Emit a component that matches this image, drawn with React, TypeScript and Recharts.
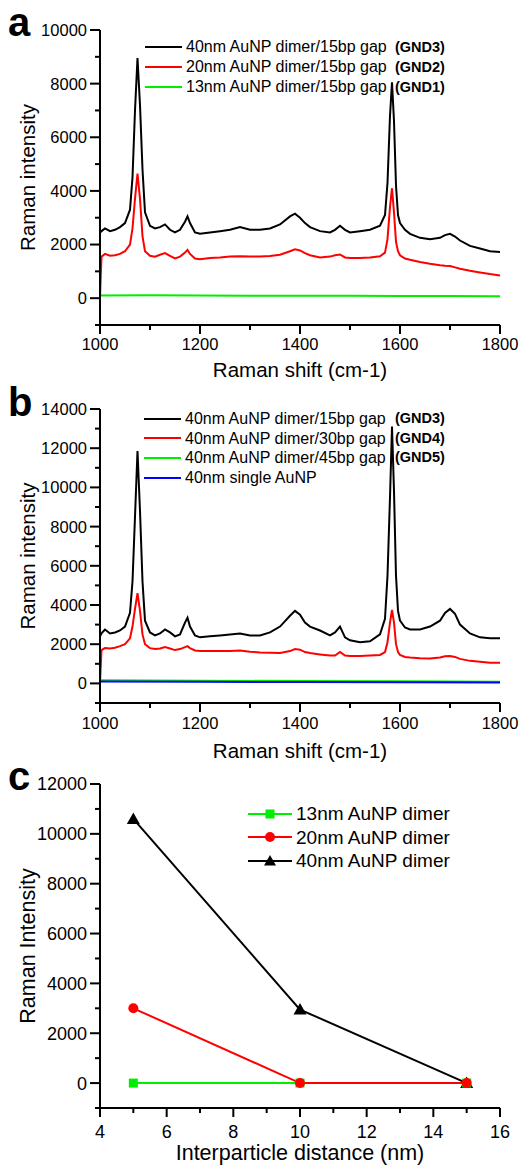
import React from 'react';
import { LineChart, Line, XAxis, YAxis } from 'recharts';

const FONT = '"Liberation Sans", Arial, Helvetica, sans-serif';

// common Raman shift grid (cm-1) used for the spectra in panels a and b
const shiftGrid = [
  1000, 1003, 1010, 1020, 1030, 1040, 1050, 1060, 1065, 1070,
  1075, 1080, 1085, 1090, 1100, 1110, 1120, 1130, 1140, 1150,
  1160, 1170, 1175, 1180, 1190, 1200, 1220, 1240, 1260, 1280,
  1300, 1320, 1340, 1360, 1380, 1390, 1400, 1410, 1420, 1440,
  1460, 1470, 1480, 1490, 1500, 1520, 1540, 1560, 1570, 1575,
  1580, 1584, 1588, 1592, 1596, 1600, 1610, 1620, 1640, 1660,
  1680, 1690, 1700, 1710, 1720, 1740, 1760, 1780, 1800,
];

// panel a
const gnd3A = [
  2450, 2500, 2600, 2500, 2550, 2650, 2800, 3300, 4500, 7000,
  8950, 7200, 4800, 3200, 2700, 2600, 2650, 2750, 2550, 2450,
  2550, 2850, 3050, 2800, 2450, 2400, 2450, 2500, 2550, 2650,
  2550, 2550, 2600, 2750, 3050, 3150, 3000, 2800, 2650, 2500,
  2450, 2550, 2700, 2550, 2450, 2500, 2550, 2700, 3100, 4300,
  6800, 8050, 6600, 4200, 3100, 2800, 2550, 2400, 2250, 2200,
  2250, 2350, 2400, 2300, 2150, 1950, 1850, 1750, 1720,
];
const gnd2A = [
  50, 1550, 1650, 1580, 1600, 1650, 1750, 2000, 2600, 3700,
  4650, 3700, 2300, 1750, 1580, 1550, 1620, 1680, 1580, 1480,
  1550, 1700, 1800, 1650, 1480, 1450, 1500, 1520, 1550, 1560,
  1550, 1550, 1570, 1620, 1750, 1820, 1780, 1680, 1600, 1520,
  1550, 1600, 1630, 1520, 1500, 1500, 1520, 1560, 1700, 2200,
  3400, 4100, 3200, 2100, 1750, 1600, 1480, 1430, 1350, 1280,
  1230, 1210, 1200, 1150, 1100, 1020, 960, 900, 850,
];
const gnd1Shift = [1000, 1100, 1200, 1300, 1400, 1500, 1600, 1700, 1800];
const gnd1A = [100, 105, 100, 95, 90, 90, 85, 80, 75];

// panel b
const gnd3B = [
  2400, 2550, 2750, 2550, 2600, 2700, 2900, 3600, 5200, 8500,
  11850, 8800, 5200, 3200, 2600, 2450, 2550, 2750, 2600, 2400,
  2500, 3100, 3350, 2900, 2450, 2350, 2400, 2450, 2500, 2550,
  2450, 2450, 2600, 2900, 3450, 3700, 3500, 3100, 2900, 2700,
  2450, 2600, 2900, 2350, 2200, 2100, 2150, 2500, 3300, 5500,
  9500, 13100, 9800, 5500, 3700, 3200, 2850, 2750, 2750, 2900,
  3200, 3600, 3800, 3550, 3000, 2550, 2350, 2300, 2300,
];
const gnd4B = [
  50, 1700, 1800, 1780, 1820, 1900, 2000, 2300, 2900, 3800,
  4600, 3700, 2500, 2000, 1800, 1750, 1780, 1850, 1780, 1700,
  1750, 1850, 1900, 1800, 1680, 1650, 1650, 1650, 1650, 1680,
  1620, 1580, 1560, 1550, 1650, 1750, 1720, 1600, 1550, 1480,
  1420, 1420, 1600, 1420, 1400, 1400, 1420, 1450, 1600, 2100,
  3100, 3750, 3100, 2000, 1600, 1450, 1350, 1320, 1280, 1270,
  1320, 1380, 1400, 1350, 1250, 1150, 1100, 1050, 1050,
];
const flatShift = [1000, 1200, 1400, 1600, 1800];
const gnd5B = [160, 140, 120, 110, 90];
const singleB = [100, 85, 70, 55, 45];

// panel c
const gapNm = [5, 10, 15];
const dimer13 = [0, 0, 0];
const dimer20 = [3000, 0, 0];
const dimer40 = [10600, 2950, 0];

// axis ticks
const shiftTicks = [1000, 1100, 1200, 1300, 1400, 1500, 1600, 1700, 1800];
const intTicksA = [-1000, 0, 1000, 2000, 3000, 4000, 5000, 6000, 7000, 8000, 9000, 10000];
const intTicksB = [-1000, 0, 1000, 2000, 3000, 4000, 5000, 6000, 7000, 8000, 9000, 10000, 11000, 12000, 13000, 14000];
const intTicksC = [-1000, 0, 1000, 2000, 3000, 4000, 5000, 6000, 7000, 8000, 9000, 10000, 11000, 12000];
const gapTicks = [4, 5, 6, 7, 8, 9, 10, 11, 12, 13, 14, 15, 16];

const toRows = (xs: number[], ys: number[]) => xs.map((x, i) => ({ x, y: ys[i] }));

const axisStyle = { stroke: '#000', strokeWidth: 2 };

function xTick(step: number, fontSize: number, baseline: number) {
  return (props: any) => {
    const { x, y, payload } = props;
    const v = payload.value;
    const major = v % step === 0;
    return (
      <g>
        <line x1={x} x2={x} y1={y} y2={y + (major ? 9 : 5)} stroke="#000" strokeWidth={2} />
        {major && (
          <text x={x} y={y + baseline} textAnchor="middle" fontSize={fontSize} fontFamily={FONT} fill="#000">
            {v}
          </text>
        )}
      </g>
    );
  };
}

function yTick(fontSize: number) {
  return (props: any) => {
    const { x, y, payload } = props;
    const v = payload.value;
    const major = v >= 0 && v % 2000 === 0;
    return (
      <g>
        <line x1={x - (major ? 10 : 5)} x2={x} y1={y} y2={y} stroke="#000" strokeWidth={2} />
        {major && (
          <text x={x - 13} y={y + fontSize * 0.36} textAnchor="end" fontSize={fontSize} fontFamily={FONT} fill="#000">
            {v}
          </text>
        )}
      </g>
    );
  };
}

function xTitle(text: string, fontSize: number, baseline: number) {
  return (props: any) => {
    const vb = props.viewBox ?? { x: 0, y: 0, width: 0, height: 0 };
    return (
      <text x={vb.x + vb.width / 2} y={vb.y + baseline} textAnchor="middle" fontSize={fontSize} fontFamily={FONT} fill="#000">
        {text}
      </text>
    );
  };
}

function yTitle(text: string, fontSize: number) {
  return (props: any) => {
    const vb = props.viewBox ?? { x: 0, y: 0, width: 0, height: 0 };
    const cx = vb.x + 35;
    const cy = vb.y + vb.height / 2;
    return (
      <text x={cx} y={cy} transform={`rotate(-90 ${cx} ${cy})`} textAnchor="middle" fontSize={fontSize} fontFamily={FONT} fill="#000">
        {text}
      </text>
    );
  };
}

type LegendItem = { color: string; label: string; tag?: string; marker?: 'square' | 'circle' | 'triangle' };

function Marker({ kind, color, cx, cy }: { kind?: string; color: string; cx: number; cy: number }) {
  if (kind === 'square') return <rect x={cx - 4.5} y={cy - 4.5} width={9} height={9} fill={color} />;
  if (kind === 'circle') return <circle cx={cx} cy={cy} r={5} fill={color} />;
  if (kind === 'triangle') return <polygon points={`${cx},${cy - 6} ${cx + 6},${cy + 4.5} ${cx - 6},${cy + 4.5}`} fill={color} />;
  return null;
}

function KeyBox(props: {
  items: LegendItem[];
  left: number;
  top: number;
  rowH: number;
  lineW: number;
  fontSize: number;
  tagLeft?: number;
}) {
  const { items, left, top, rowH, lineW, fontSize, tagLeft } = props;
  return (
    <div style={{ position: 'absolute', left, top, fontFamily: FONT, color: '#000' }}>
      {items.map((it) => (
        <div key={it.label} style={{ position: 'relative', height: rowH, display: 'flex', alignItems: 'center', whiteSpace: 'nowrap' }}>
          <svg width={lineW} height={14} style={{ display: 'block' }}>
            <line x1={0} x2={lineW} y1={7} y2={7} stroke={it.color} strokeWidth={2} />
            <Marker kind={it.marker} color={it.color} cx={lineW / 2} cy={7} />
          </svg>
          <span style={{ marginLeft: 4, fontSize, lineHeight: `${rowH}px` }}>{it.label}</span>
          {it.tag && (
            <span style={{ position: 'absolute', left: tagLeft, fontSize: 14.5, fontWeight: 'bold', lineHeight: `${rowH}px` }}>
              {it.tag}
            </span>
          )}
        </div>
      ))}
    </div>
  );
}

const letterStyle = (top: number): React.CSSProperties => ({
  position: 'absolute',
  left: 8,
  top,
  fontFamily: FONT,
  fontWeight: 'bold',
  fontSize: 40,
  lineHeight: 1,
});

const squareDot = (color: string) => (p: any) =>
  <rect key={`s${p.index}`} x={p.cx - 4.5} y={p.cy - 4.5} width={9} height={9} fill={color} />;
const triangleDot = (color: string) => (p: any) =>
  <polygon key={`t${p.index}`} points={`${p.cx},${p.cy - 6.5} ${p.cx + 6.5},${p.cy + 5} ${p.cx - 6.5},${p.cy + 5}`} fill={color} />;

export default function App() {
  return (
    <div style={{ position: 'absolute', left: 0, top: 0, width: 519, height: 1165, background: '#fff', overflow: 'hidden' }}>
      {/* panel a */}
      <div style={{ position: 'absolute', left: 0, top: 0 }}>
        <LineChart width={519} height={390} margin={{ top: 30, right: 19, bottom: 10, left: 0 }}>
          <XAxis
            type="number"
            dataKey="x"
            domain={[1000, 1800]}
            ticks={shiftTicks}
            interval={0}
            height={55}
            tickSize={0}
            tickMargin={0}
            tickLine={false}
            axisLine={axisStyle}
            tick={xTick(200, 16.5, 25)}
            label={xTitle('Raman shift (cm-1)', 20.5, 52)}
            allowDataOverflow
          />
          <YAxis
            type="number"
            domain={[-1000, 10000]}
            ticks={intTicksA}
            interval={0}
            width={100}
            tickSize={0}
            tickMargin={0}
            tickLine={false}
            axisLine={axisStyle}
            tick={yTick(16.5)}
            label={yTitle('Raman intensity', 20.5)}
            allowDataOverflow
          />
          <Line data={toRows(gnd1Shift, gnd1A)} dataKey="y" type="linear" stroke="#00ee00" strokeWidth={2} dot={false} isAnimationActive={false} />
          <Line data={toRows(shiftGrid, gnd2A)} dataKey="y" type="linear" stroke="#ff0000" strokeWidth={2} dot={false} isAnimationActive={false} />
          <Line data={toRows(shiftGrid, gnd3A)} dataKey="y" type="linear" stroke="#000000" strokeWidth={2} dot={false} isAnimationActive={false} />
        </LineChart>
      </div>
      <div style={letterStyle(2)}>a</div>
      <KeyBox
        left={145}
        top={37}
        rowH={20}
        lineW={37}
        fontSize={16}
        tagLeft={250}
        items={[
          { color: '#000000', label: '40nm AuNP dimer/15bp gap', tag: '(GND3)' },
          { color: '#ff0000', label: '20nm AuNP dimer/15bp gap', tag: '(GND2)' },
          { color: '#00ee00', label: '13nm AuNP dimer/15bp gap', tag: '(GND1)' },
        ]}
      />

      {/* panel b */}
      <div style={{ position: 'absolute', left: 0, top: 380 }}>
        <LineChart width={519} height={390} margin={{ top: 29, right: 19, bottom: 10, left: 0 }}>
          <XAxis
            type="number"
            dataKey="x"
            domain={[1000, 1800]}
            ticks={shiftTicks}
            interval={0}
            height={57}
            tickSize={0}
            tickMargin={0}
            tickLine={false}
            axisLine={axisStyle}
            tick={xTick(200, 16.5, 25.5)}
            label={xTitle('Raman shift (cm-1)', 20.5, 55)}
            allowDataOverflow
          />
          <YAxis
            type="number"
            domain={[-1000, 14000]}
            ticks={intTicksB}
            interval={0}
            width={100}
            tickSize={0}
            tickMargin={0}
            tickLine={false}
            axisLine={axisStyle}
            tick={yTick(16.5)}
            label={yTitle('Raman intensity', 20.5)}
            allowDataOverflow
          />
          <Line data={toRows(flatShift, gnd5B)} dataKey="y" type="linear" stroke="#00ee00" strokeWidth={2} dot={false} isAnimationActive={false} />
          <Line data={toRows(flatShift, singleB)} dataKey="y" type="linear" stroke="#0000ff" strokeWidth={2} dot={false} isAnimationActive={false} />
          <Line data={toRows(shiftGrid, gnd4B)} dataKey="y" type="linear" stroke="#ff0000" strokeWidth={2} dot={false} isAnimationActive={false} />
          <Line data={toRows(shiftGrid, gnd3B)} dataKey="y" type="linear" stroke="#000000" strokeWidth={2} dot={false} isAnimationActive={false} />
        </LineChart>
      </div>
      <div style={letterStyle(382)}>b</div>
      <KeyBox
        left={144}
        top={409}
        rowH={19.6}
        lineW={37}
        fontSize={16}
        tagLeft={251}
        items={[
          { color: '#000000', label: '40nm AuNP dimer/15bp gap', tag: '(GND3)' },
          { color: '#ff0000', label: '40nm AuNP dimer/30bp gap', tag: '(GND4)' },
          { color: '#00ee00', label: '40nm AuNP dimer/45bp gap', tag: '(GND5)' },
          { color: '#0000ff', label: '40nm single AuNP' },
        ]}
      />

      {/* panel c */}
      <div style={{ position: 'absolute', left: 0, top: 770 }}>
        <LineChart width={519} height={395} margin={{ top: 14, right: 19, bottom: 0, left: 0 }}>
          <XAxis
            type="number"
            dataKey="x"
            domain={[4, 16]}
            ticks={gapTicks}
            interval={0}
            height={57}
            tickSize={0}
            tickMargin={0}
            tickLine={false}
            axisLine={axisStyle}
            tick={xTick(2, 18, 30)}
            label={xTitle('Interparticle distance (nm)', 21.5, 52)}
            allowDataOverflow
          />
          <YAxis
            type="number"
            domain={[-1000, 12000]}
            ticks={intTicksC}
            interval={0}
            width={100}
            tickSize={0}
            tickMargin={0}
            tickLine={false}
            axisLine={axisStyle}
            tick={yTick(18)}
            label={yTitle('Raman Intensity', 21.5)}
            allowDataOverflow
          />
          <Line data={toRows(gapNm, dimer40)} dataKey="y" type="linear" stroke="#000000" strokeWidth={2} dot={triangleDot('#000000')} isAnimationActive={false} />
          <Line data={toRows(gapNm, dimer13)} dataKey="y" type="linear" stroke="#00ee00" strokeWidth={2} dot={squareDot('#00ee00')} isAnimationActive={false} />
          <Line data={toRows(gapNm, dimer20)} dataKey="y" type="linear" stroke="#ff0000" strokeWidth={2} dot={{ r: 5, fill: '#ff0000', stroke: '#ff0000', strokeWidth: 0 }} isAnimationActive={false} />
        </LineChart>
      </div>
      <div style={letterStyle(756)}>c</div>
      <KeyBox
        left={248}
        top={802}
        rowH={23.5}
        lineW={44}
        fontSize={19}
        items={[
          { color: '#00ee00', label: '13nm AuNP dimer', marker: 'square' },
          { color: '#ff0000', label: '20nm AuNP dimer', marker: 'circle' },
          { color: '#000000', label: '40nm AuNP dimer', marker: 'triangle' },
        ]}
      />
    </div>
  );
}
